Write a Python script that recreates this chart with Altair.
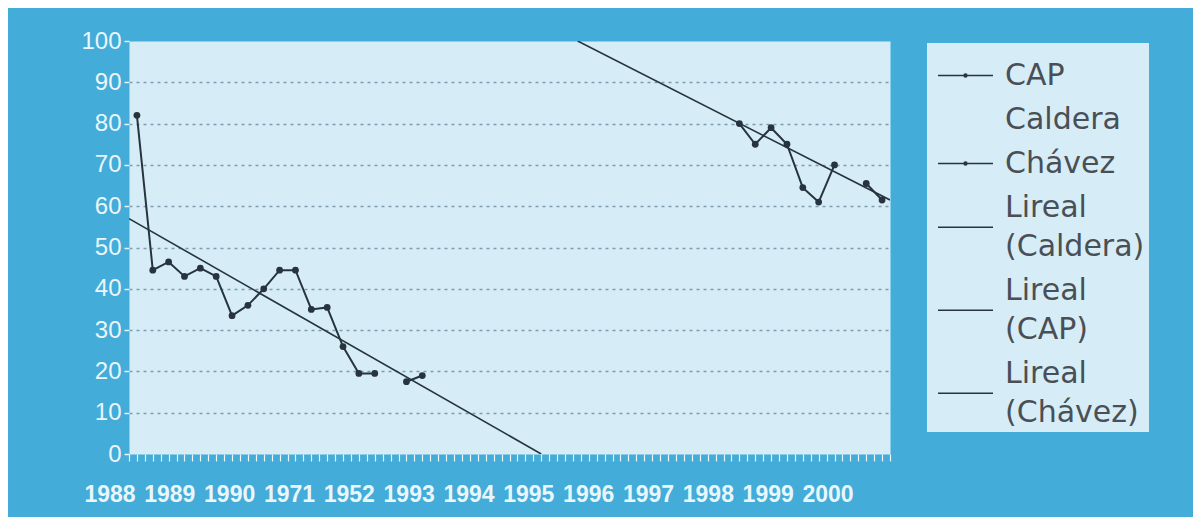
import altair as alt
import pandas as pd
import numpy as np

# ---- data ----
n_periods = 48                      # categories on the x axis (index 0..47)
cap_start = 0
cap_values = [82, 44.5, 46.5, 43, 45, 43, 33.5, 36, 40, 44.5, 44.5, 35, 35.5,
              26, 19.5, 19.5, None, 17.5, 19]
chavez_start = 38
chavez_values = [80, 75, 79, 75, 64.5, 61, 70, None, 65.5, 61.5]

trend_cap_idx = [-0.5, 25.5]
trend_cap_val = [57, 0]
trend_chavez_idx = [27.8, 47.5]
trend_chavez_val = [100, 61.5]

year_positions = list(range(1988, 2001))
year_labels = ["1988", "1989", "1990", "1971", "1952", "1993", "1994",
               "1995", "1996", "1997", "1998", "1999", "2000"]
legend_names = ["CAP", "Caldera", "Chávez", "Lireal (Caldera)",
                "Lireal (CAP)", "Lireal (Chávez)"]
y_ticks = list(range(0, 101, 10))

# ---- styles ----
BG = "#43acd8"
PANEL = "#d6edf7"
DARK = "#27343f"
LIGHT = "#e9f7fd"

rows = []
def add_series(name, start, values):
    seg = 0
    for k, v in enumerate(values):
        if v is None:
            seg += 1
            continue
        rows.append(dict(idx=start + k, value=v, serie=name, seg=f"{name}-{seg}"))

add_series("CAP", cap_start, cap_values)
add_series("Chávez", chavez_start, chavez_values)
df = pd.DataFrame(rows)

trend = pd.DataFrame(
    [dict(idx=i, value=v, serie="Lireal (CAP)") for i, v in zip(trend_cap_idx, trend_cap_val)]
    + [dict(idx=i, value=v, serie="Lireal (Chávez)") for i, v in zip(trend_chavez_idx, trend_chavez_val)]
)
years = pd.DataFrame(dict(pos=year_positions, text=year_labels))
legend_df = pd.DataFrame(dict(serie=legend_names))

xscale = alt.Scale(domain=[-0.5, n_periods - 0.5], nice=False, zero=False)
yscale = alt.Scale(domain=[0, 100], nice=False)

xaxis = alt.Axis(values=[float(v) for v in np.arange(-0.5, n_periods - 0.5 + 0.01, 0.5)],
                 labels=False, ticks=True, tickColor=LIGHT, tickSize=7, tickWidth=1.2,
                 domain=False, grid=False, title=None)
yaxis = alt.Axis(values=y_ticks, labelFontSize=24, labelFont="Liberation Sans",
                 labelColor=LIGHT, labelPadding=3, tickColor=LIGHT, tickSize=5,
                 tickWidth=1.5, domain=False, title=None, grid=True,
                 gridColor="#6f8ea4", gridDash=[3, 4], gridWidth=1.4,
                 gridOpacity={"condition": {"test": "datum.value == 0 || datum.value == 100", "value": 0},
                              "value": 0.85})

x = alt.X("idx:Q", scale=xscale, axis=xaxis)
y = alt.Y("value:Q", scale=yscale, axis=yaxis)

lines = alt.Chart(df).mark_line(color=DARK, strokeWidth=2).encode(
    x=x, y=y, detail="seg:N")
points = alt.Chart(df).mark_circle(color=DARK, size=46, opacity=1).encode(
    x=x, y=y)
trends = alt.Chart(trend).mark_line(color=DARK, strokeWidth=1.6, clip=True).encode(
    x=x, y=y, detail="serie:N")

# legend symbols: line with a dot, nothing, and a plain line set between the two label lines
line_dot = "M-1,0L1,0M-0.05,0A0.05,0.05,0,1,0,0.05,0A0.05,0.05,0,1,0,-0.05,0Z"
plain_low = "M-1,0.72L1,0.72"
empty = "M0,0"
shape_range = [line_dot, empty, line_dot, plain_low, plain_low, plain_low]

legend_layer = alt.Chart(legend_df).mark_point(filled=False, color=DARK, opacity=0).encode(
    x=alt.value(0), y=alt.value(0),
    shape=alt.Shape("serie:N", sort=legend_names,
                    scale=alt.Scale(domain=legend_names, range=shape_range),
                    legend=alt.Legend(
                        title=None, orient="none", legendX=798, legendY=2,
                        fillColor=PANEL, padding=4, symbolOffset=6, symbolSize=3025,
                        symbolOpacity=1, symbolStrokeColor=DARK,
                        symbolStrokeWidth=1.6,
                        labelFont="DejaVu Sans", labelFontSize=30, labelColor="#4a4f55",
                        labelOffset=11, labelLimit=400, rowPadding=0,
                        labelExpr="split(datum.label, ' ')")))

main = alt.layer(lines, trends, points, legend_layer)

year_text = alt.Chart(years).mark_text(
    font="Liberation Sans", fontSize=23, fontWeight="bold", color=LIGHT,
    baseline="middle", align="center"
).encode(
    x=alt.X("pos:Q", scale=alt.Scale(domain=[1988.318, 2001.036], nice=False, zero=False), axis=None),
    y=alt.value(454),
    text="text:N")

chart = alt.layer(main, year_text).resolve_scale(x="independent").properties(
    width=761, height=413,
    padding={"left": 121, "top": 33, "right": 303, "bottom": 63},
    autosize=alt.AutoSizeParams(type="none"),
    background=BG,
).configure(
    style={"guide-label": {"lineHeight": 39}},
    view=alt.ViewConfig(fill=PANEL, stroke="transparent"),
)

chart.save("out.html", embed_options={"renderer": "svg", "actions": False})
